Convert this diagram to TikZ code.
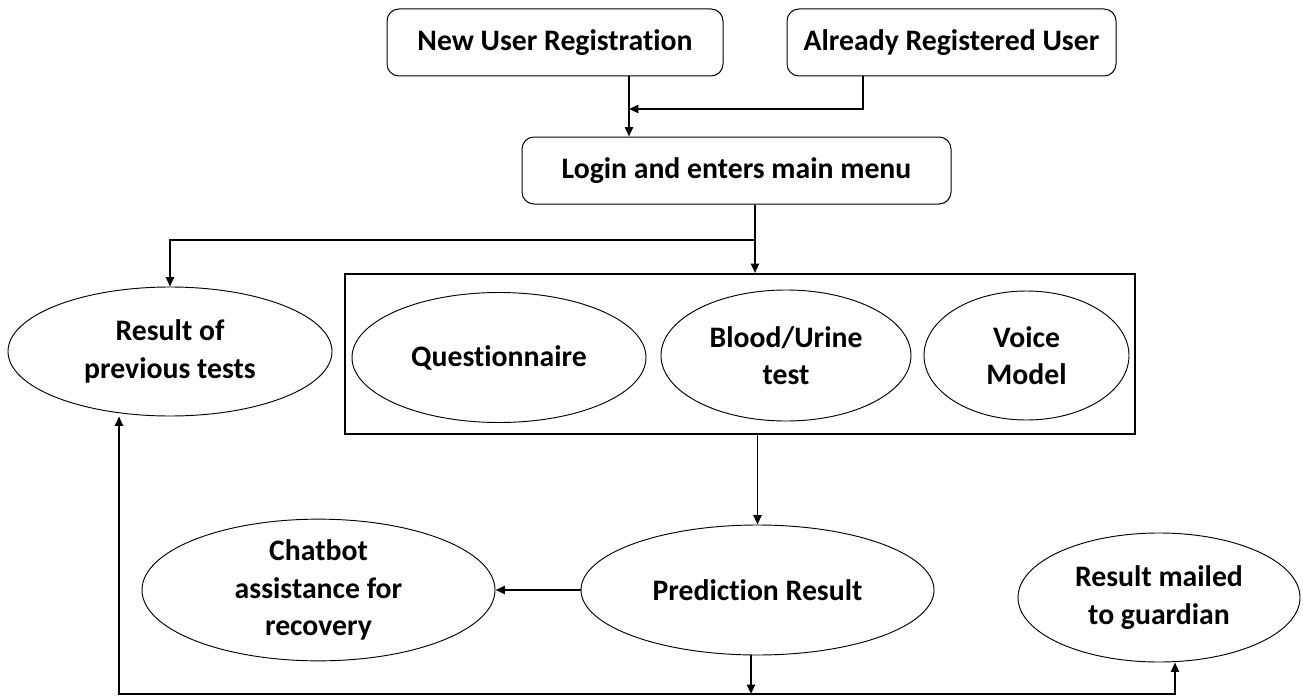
\documentclass[tikz,border=0pt]{standalone}
\usepackage{fontspec}
\setmainfont{Carlito}[Ligatures=NoCommon]
\usetikzlibrary{arrows.meta,shapes.geometric}

\begin{document}
\begin{tikzpicture}[x=0.75pt,y=-0.75pt,
    box/.style={draw, rounded corners=9pt, line width=0.75pt, inner sep=0pt, minimum height=50.25pt},
    oval/.style={draw, ellipse, line width=0.7pt, inner sep=0pt, align=center},
    link/.style={line width=1.4pt, -{Triangle[length=7pt,width=6pt]}},
    font=\bfseries\fontsize{22.3}{28}\selectfont]
    \useasboundingbox (0,0) rectangle (1303,699);

    % top boxes
    \node[box, minimum width=252pt] (newuser) at (555,42.5) {New User Registration};
    \node[box, minimum width=246.75pt] (already) at (951.5,42.5) {Already Registered User};
    \node[box, minimum width=321.75pt] (login) at (736.5,170.5) {Login and enters main menu};

    % tests
    \node[draw, line width=1.5pt, minimum width=592.5pt, minimum height=120pt] (tests) at (740,354) {};
    \node[oval, minimum width=220.5pt, minimum height=97.5pt] (quest) at (499,357.5) {Questionnaire};
    \node[oval, minimum width=187.5pt, minimum height=98.25pt] (blood) at (786,355.5) {Blood/Urine\\test};
    \node[oval, minimum width=153.75pt, minimum height=96.75pt] (voice) at (1026.5,355.5) {Voice\\Model};

    \node[oval, minimum width=243pt, minimum height=96.75pt] (result) at (170,351.5) {Result of\\previous tests};
    \node[oval, minimum width=264.75pt, minimum height=97.5pt] (pred) at (757.5,590) {Prediction Result};
    \node[oval, minimum width=264.75pt, minimum height=97.5pt] (chat) at (318.5,590) {Chatbot\\assistance for\\recovery};
    \node[oval, minimum width=211.5pt, minimum height=96.75pt] (mail) at (1159,597.5) {Result mailed\\to guardian};

    \coordinate (j1) at (629,109);
    \coordinate (a1) at (863,109);
    \coordinate (s1) at (755,240);
    \coordinate (b1) at (751,694);
    \coordinate (bl) at (119,694);
    \coordinate (br) at (1175,694);

    \draw[link] (newuser.south -| j1) -- (login.north -| j1);
    \draw[link] (already.south -| a1) -- (a1) -- (j1);
    \draw[link] (login.south -| s1) -- (tests.north -| s1);
    \draw[link] (s1) -- (s1 -| result.north) -- (result.north);
    \draw[link] (tests.south -| pred.north) -- (pred.north);
    \draw[link] (pred.west) -- (chat.east);
    \draw[link] (pred.south -| b1) -- (b1);
    \draw[link] (b1) -- (bl) -- (bl |- result.south);
    \draw[link] (b1) -- (br) -- (br |- mail.south);
\end{tikzpicture}
\end{document}
